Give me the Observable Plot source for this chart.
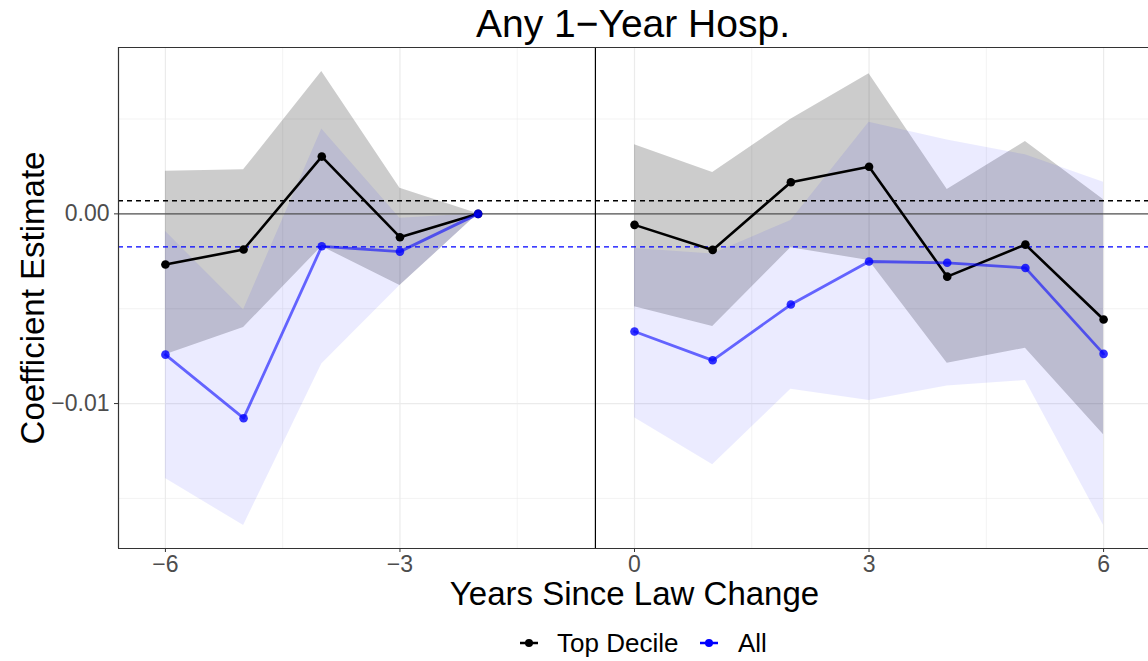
<!DOCTYPE html>
<html>
<head>
<meta charset="utf-8">
<script src="https://cdn.jsdelivr.net/npm/d3@7"></script>
<script src="https://cdn.jsdelivr.net/npm/@observablehq/plot@0.6"></script>
<style>
  html, body { margin: 0; padding: 0; background: #fff; overflow: hidden; }
  body { width: 1148px; height: 661px; position: relative; font-family: "Liberation Sans", Arial, Helvetica, sans-serif; }
  #title { position: absolute; left: 118px; width: 1030px; top: 4px; line-height: 39px; font-size: 39px; text-align: center; color: #000; }
  #chart { position: absolute; left: 0; top: 46px; }
  .leg { position: absolute; top: 628px; font-size: 26px; line-height: 30px; color: #000; white-space: nowrap; }
  .key { position: absolute; top: 633px; }
</style>
</head>
<body>
<div id="title">Any 1−Year Hosp.</div>
<div id="chart"></div>
<svg class="key" style="left:518px" width="22" height="20"><line x1="2" x2="20" y1="10" y2="10" stroke="#000" stroke-width="2.5"/><circle cx="11" cy="10" r="4" fill="#000"/></svg>
<div class="leg" style="left:557px">Top Decile</div>
<svg class="key" style="left:698px" width="22" height="20"><line x1="2" x2="20" y1="10" y2="10" stroke="#0000ff" stroke-width="2.5"/><circle cx="11" cy="10" r="4" fill="#0000ff"/></svg>
<div class="leg" style="left:738px">All</div>
<script>
// ---- data ----
const years    = [-6, -5, -4, -3, -2, 0, 1, 2, 3, 4, 5, 6];
const topEst   = [-0.00267, -0.00188, 0.00302, -0.00123, 0, -0.00058, -0.00190, 0.00167, 0.00248, -0.00331, -0.00162, -0.00557];
const topHi    = [0.00225, 0.00232, 0.00750, 0.00135, 0, 0.00364, 0.00218, 0.00499, 0.00738, 0.00128, 0.00381, 0.00075];
const topLo    = [-0.00742, -0.00599, -0.00172, -0.00378, 0, -0.00489, -0.00594, -0.00178, -0.00246, -0.00788, -0.00708, -0.01165];
const allEst   = [-0.00742, -0.01077, -0.00171, -0.00199, 0, -0.00620, -0.00772, -0.00478, -0.00251, -0.00258, -0.00285, -0.00738];
const allHi    = [-0.00092, -0.00506, 0.00448, -0.00023, 0, -0.00183, -0.00211, -0.00035, 0.00483, 0.00390, 0.00311, 0.00167];
const allLo    = [-0.01395, -0.01643, -0.00791, -0.00378, 0, -0.01075, -0.01322, -0.00925, -0.00984, -0.00907, -0.00879, -0.01643];
const topMean  = 0.00069;   // dashed black reference line
const allMean  = -0.00174;  // dashed blue reference line
const lawLine  = -0.5;
const xTicks   = [-6, -3, 0, 3, 6];
const xMinor   = [-4.5, -1.5, 1.5, 4.5];
const yTicks   = [-0.01, 0];
const yMinor   = [-0.015, -0.005, 0.005];

const mk = (est, lo, hi, group) => years.map((yr, i) => ({
  year: yr, est: est[i], lo: lo[i], hi: hi[i], group, period: yr < 0 ? "pre" : "post"
}));
const topRows = mk(topEst, topLo, topHi, "Top Decile");
const allRows = mk(allEst, allLo, allHi, "All");

const xDom = [-6.6, 6.6];
const yDom = [-0.01764, 0.00877];
const minus = (s) => String(s).replace("-", "−");

const chart = Plot.plot({
  width: 1148,
  height: 569,
  marginLeft: 118,
  marginRight: -2,
  marginTop: 1,
  marginBottom: 67,
  style: { fontFamily: "'Liberation Sans', Arial, Helvetica, sans-serif", background: "white", overflow: "visible" },
  x: { domain: xDom, range: [118, 1150], axis: null },
  y: { domain: yDom, axis: null },
  marks: [
    // grid
    Plot.ruleX(xMinor, { stroke: "#ebebeb", strokeWidth: 0.6 }),
    Plot.ruleY(yMinor, { stroke: "#ebebeb", strokeWidth: 0.6 }),
    Plot.ruleX(xTicks, { stroke: "#ebebeb", strokeWidth: 1.2 }),
    Plot.ruleY(yTicks, { stroke: "#ebebeb", strokeWidth: 1.2 }),
    // ribbons
    Plot.areaY(topRows, { x: "year", y1: "lo", y2: "hi", z: "period", fill: "black", fillOpacity: 0.2 }),
    Plot.areaY(allRows, { x: "year", y1: "lo", y2: "hi", z: "period", fill: "blue", fillOpacity: 0.08 }),
    // reference lines
    Plot.ruleY([0], { stroke: "#555555", strokeWidth: 1.1 }),
    Plot.ruleY([topMean], { stroke: "black", strokeWidth: 1.4, strokeDasharray: "5,4" }),
    Plot.ruleY([allMean], { stroke: "blue", strokeWidth: 1.4, strokeDasharray: "5,4" }),
    Plot.ruleX([lawLine], { stroke: "black", strokeWidth: 1.2 }),
    // series
    Plot.lineY(topRows, { x: "year", y: "est", z: "period", stroke: "black", strokeWidth: 2.6 }),
    Plot.dot(topRows, { x: "year", y: "est", r: 4.3, fill: "black", stroke: "none" }),
    Plot.lineY(allRows, { x: "year", y: "est", z: "period", stroke: "blue", strokeOpacity: 0.58, strokeWidth: 2.8 }),
    Plot.dot(allRows, { x: "year", y: "est", r: 4.3, fill: "blue", fillOpacity: 0.8, stroke: "none" }),
    // panel border
    Plot.ruleX([xDom[0]], { stroke: "#333333", strokeWidth: 1.2 }),
    Plot.ruleY([yDom[0]], { stroke: "#333333", strokeWidth: 1.2 }),
    Plot.ruleY([yDom[1]], { stroke: "#333333", strokeWidth: 1.2 }),
    // axes
    Plot.axisX(xTicks, { anchor: "bottom", tickSize: 4, tickPadding: 3, stroke: "#333333", fill: "#4d4d4d", fontSize: 23, tickFormat: minus, label: null }),
    Plot.axisY(yTicks, { anchor: "left", tickSize: 4, tickPadding: 5, stroke: "#333333", fill: "#4d4d4d", fontSize: 23, tickFormat: d => minus(d3.format(".2f")(d)), label: null }),
    // axis titles
    Plot.text(["Years Since Law Change"], { frameAnchor: "bottom", lineAnchor: "middle", textAnchor: "middle", dy: 46, fontSize: 33, fill: "black" }),
    Plot.text(["Coefficient Estimate"], { frameAnchor: "left", lineAnchor: "middle", textAnchor: "middle", dx: -85, rotate: -90, fontSize: 33, fill: "black" })
  ]
});
document.getElementById("chart").appendChild(chart);
</script>
</body>
</html>
